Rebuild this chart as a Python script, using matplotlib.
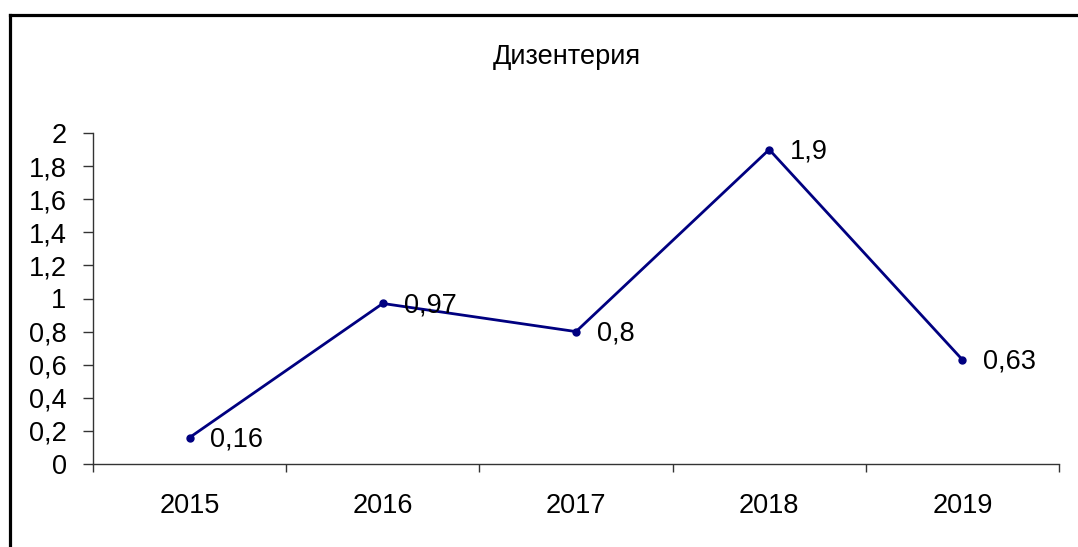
import matplotlib
matplotlib.use("Agg")
import matplotlib.pyplot as plt
from matplotlib.lines import Line2D
from matplotlib.ticker import FixedLocator

years = ["2015", "2016", "2017", "2018", "2019"]
values = [0.16, 0.97, 0.8, 1.9, 0.63]
labels = ["0,16", "0,97", "0,8", "1,9", "0,63"]
yticks = [0, 0.2, 0.4, 0.6, 0.8, 1.0, 1.2, 1.4, 1.6, 1.8, 2.0]
yticklabels = ["0", "0,2", "0,4", "0,6", "0,8", "1", "1,2", "1,4", "1,6", "1,8", "2"]
title = "Дизентерия"

plt.rcParams['font.family'] = ['Liberation Sans', 'DejaVu Sans']

W, H = 1078, 547
fig = plt.figure(figsize=(W / 100, H / 100), dpi=100)
fig.patch.set_facecolor("white")

x0, x1 = 93, 1059
y_top, y_bot = 133, 464
ax = fig.add_axes([x0 / W, 1 - y_bot / H, (x1 - x0) / W, (y_bot - y_top) / H])

FS = 19.5
xs = list(range(len(years)))
ax.plot(xs, values, color="#000080", lw=2, marker="o", ms=5, zorder=3, clip_on=False)
for x, v, t in zip(xs, values, labels):
    ax.annotate(t, (x, v), xytext=(15, -1.5), textcoords="offset points",
                ha="left", va="center", fontsize=FS, color="black")

ax.set_xlim(-0.5, len(years) - 0.5)
ax.set_ylim(0, 2)
ax.set_xticks(xs)
ax.set_xticklabels(years, fontsize=FS)
ax.xaxis.set_minor_locator(FixedLocator([i - 0.5 for i in range(len(years) + 1)]))
ax.tick_params(axis="x", which="major", length=0, pad=21)
ax.tick_params(axis="x", which="minor", length=6, width=1, color="#333333", direction="out")
ax.set_yticks(yticks)
ax.set_yticklabels(yticklabels, fontsize=FS)
ax.tick_params(axis="y", which="major", length=7, width=1, color="#333333", pad=12, direction="out")

for s in ["top", "right"]:
    ax.spines[s].set_visible(False)
for s in ["left", "bottom"]:
    ax.spines[s].set_color("#333333")
    ax.spines[s].set_linewidth(1)
ax.set_facecolor("none")

fig.text(567 / W, 1 - 57 / H, title, ha="center", va="center", fontsize=19.5, color="black")

# outer frame (top and left edges visible)
fig.add_artist(Line2D([10 / W, 1.0], [1 - 15 / H, 1 - 15 / H], transform=fig.transFigure,
                      color="black", lw=2.3))
fig.add_artist(Line2D([10 / W, 10 / W], [1 - 15 / H, 0], transform=fig.transFigure,
                      color="black", lw=2.3))

fig.savefig("out.png", dpi=100, facecolor="white")
